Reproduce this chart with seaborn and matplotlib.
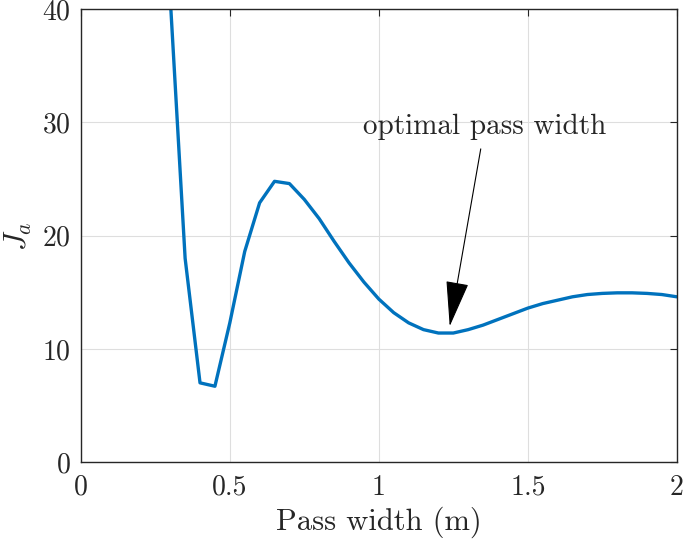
import matplotlib
matplotlib.use("Agg")
import matplotlib.pyplot as plt
import seaborn as sns
import pandas as pd

pass_width = [0.30, 0.35, 0.40, 0.45, 0.50, 0.55, 0.60, 0.65, 0.70, 0.75,
              0.80, 0.85, 0.90, 0.95, 1.00, 1.05, 1.10, 1.15, 1.20, 1.25,
              1.30, 1.35, 1.40, 1.45, 1.50, 1.55, 1.60, 1.65, 1.70, 1.75,
              1.80, 1.85, 1.90, 1.95, 2.00]
ja = [41.0, 18.0, 7.0, 6.7, 12.3, 18.6, 22.9, 24.8, 24.6, 23.2,
      21.5, 19.5, 17.6, 15.9, 14.4, 13.2, 12.3, 11.7, 11.4, 11.4,
      11.7, 12.1, 12.6, 13.1, 13.6, 14.0, 14.3, 14.6, 14.8, 14.9,
      14.95, 14.95, 14.9, 14.8, 14.6]
x_ticks = [0, 0.5, 1, 1.5, 2]
x_tick_labels = ["0", "0.5", "1", "1.5", "2"]
y_ticks = [0, 10, 20, 30, 40]

df = pd.DataFrame({"width": pass_width, "ja": ja})

sns.set_style("whitegrid")
plt.rcParams["font.family"] = ["cmr10", "DejaVu Serif"]
plt.rcParams["mathtext.fontset"] = "cm"
plt.rcParams["axes.formatter.use_mathtext"] = True

fig = plt.figure(figsize=(6.85, 5.43), dpi=100)
ax = fig.add_axes([0.118, 0.149, 0.870, 0.834])

sns.lineplot(data=df, x="width", y="ja", ax=ax, color="#0072BD", linewidth=2.4)

ax.set_xlim(0, 2)
ax.set_ylim(0, 40)
ax.set_xticks(x_ticks)
ax.set_xticklabels(x_tick_labels)
ax.set_yticks(y_ticks)
ax.grid(True, color="#dedede", linewidth=0.8)
for s in ax.spines.values():
    s.set_visible(True)
    s.set_color("#262626")
    s.set_linewidth(1.0)
ax.tick_params(axis="both", which="both", direction="in", length=5,
               top=True, right=True, labelsize=20, color="#262626")
ax.tick_params(axis="x", pad=9)
ax.tick_params(axis="y", pad=7)

ax.set_xlabel("Pass width (m)", fontsize=22, labelpad=4)
ax.set_ylabel("$J_a$", fontsize=22, labelpad=6)

ax.annotate("optimal pass width", xy=(1.238, 12.0), xytext=(1.355, 29.6),
            ha="center", va="center", fontsize=21,
            arrowprops=dict(arrowstyle="-|>,head_length=1.4,head_width=0.35",
                            color="black", lw=0.8, shrinkA=4, shrinkB=0))

fig.savefig("out.png", dpi=100)
